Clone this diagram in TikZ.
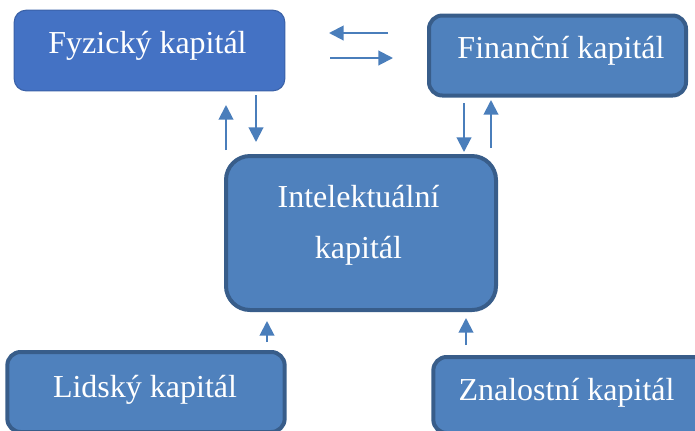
\documentclass[tikz,border=0pt]{standalone}
\usepackage{fontspec}
\setmainfont{Liberation Serif}
\usetikzlibrary{arrows.meta}
\definecolor{boxblue}{HTML}{4F81BD}
\definecolor{boxbright}{HTML}{4472C4}
\definecolor{boxedge}{HTML}{385D8A}
\definecolor{arrblue}{HTML}{4A7EBB}
\tikzset{>/.tip={Triangle[length=11pt,width=11pt]},
  capbox/.style={draw=boxedge, line width=3pt, fill=boxblue, rounded corners=10pt},
  captext/.style={anchor=base, text=white, inner sep=0pt, font=\fontsize{24}{29}\selectfont},
  link/.style={->, arrblue, line width=1.5pt}}

\begin{document}
\begin{tikzpicture}[x=0.75pt, y=-0.75pt]
\useasboundingbox (0,0) rectangle (695,430);
\node[capbox, draw=boxbright!85!black, line width=0.8pt, fill=boxbright, rounded corners=9pt,
  minimum width=203pt, minimum height=60.5pt] (fyz) at (149.5,50.5) {};
\node[capbox, minimum width=192.75pt, minimum height=60pt] (fin) at (557.5,55.5) {};
\node[capbox, rounded corners=18pt, minimum width=202.5pt, minimum height=115.5pt] (int) at (361,233) {};
\node[capbox, minimum width=208pt, minimum height=60pt] (lid) at (146,392) {};
\node[capbox, minimum width=205pt, minimum height=57pt] (zna) at (570,395) {};
\node[captext] (fyzt) at (147.5,53) {Fyzický kapitál};
\node[captext] (fint) at (561,58) {Finanční kapitál};
\node[captext] (intt) at (358.5,207) {Intelektuální};
\node[captext] (intk) at (358.5,258) {kapitál};
\node[captext] (lidt) at (145,397) {Lidský kapitál};
\node[captext] (znat) at (566.5,400) {Znalostní kapitál};
% arrow ends
\coordinate (a1) at (388,33);  \coordinate (a2) at (329,33);
\coordinate (b1) at (330,58);  \coordinate (b2) at (393,58);
\coordinate (c1) at (226,150); \coordinate (c2) at (226,105);
\coordinate (d1) at (256,95);  \coordinate (d2) at (256,142);
\coordinate (e1) at (464,103); \coordinate (e2) at (464,152);
\coordinate (f1) at (491,148); \coordinate (f2) at (491,100);
\coordinate (g1) at (267,342); \coordinate (g2) at (267,321);
\coordinate (h1) at (466,345); \coordinate (h2) at (466,318);
\foreach \s/\t in {a1/a2,b1/b2,c1/c2,d1/d2,e1/e2,f1/f2,g1/g2,h1/h2}
{
  \draw[link] (\s) to (\t);
}
\end{tikzpicture}
\end{document}
